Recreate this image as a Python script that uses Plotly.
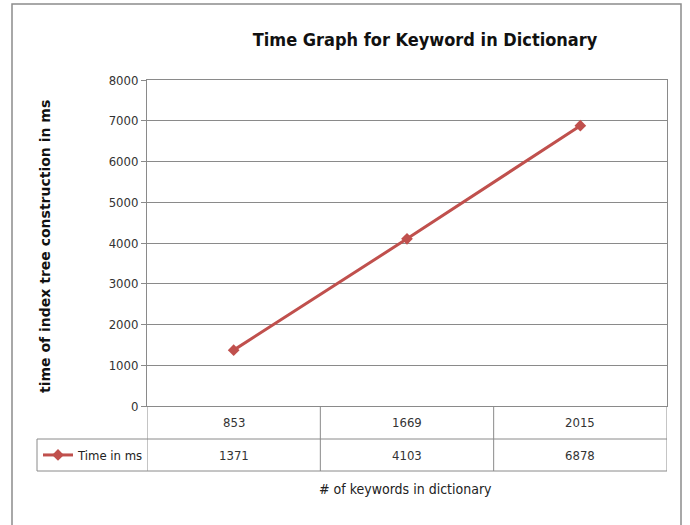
import plotly.graph_objects as go

categories = ["853", "1669", "2015"]
times_ms = [1371, 4103, 6878]
series_name = "Time in ms"
y_ticks = [0, 1000, 2000, 3000, 4000, 5000, 6000, 7000, 8000]

FONT = "Liberation Sans Narrow, DejaVu Sans Condensed, Arial Narrow, sans-serif"
RED = "#C0504D"
GRID = "#8a8a8a"

fig = go.Figure()
fig.add_trace(go.Scatter(
    x=list(range(len(categories))), y=times_ms, mode="lines+markers",
    name=series_name,
    line=dict(color=RED, width=3),
    marker=dict(symbol="diamond", size=9, color=RED),
))

# plot area geometry (pixels)
L, R, T, B = 147, 23, 80, 119
W, H = 690, 525
pw, ph = W - L - R, H - T - B


def px_x(x):
    return (x - L) / pw


def px_y(y):
    return (H - B - y) / ph


shapes = []
annotations = []
line_style = dict(color=GRID, width=1)
row1_bot = px_y(439)
row2_bot = px_y(471)
# table horizontal lines
shapes.append(dict(type="line", xref="paper", yref="paper", x0=0, x1=1, y0=row1_bot, y1=row1_bot, line=line_style))
shapes.append(dict(type="line", xref="paper", yref="paper", x0=px_x(37), x1=1, y0=row2_bot, y1=row2_bot, line=line_style))
shapes.append(dict(type="line", xref="paper", yref="paper", x0=px_x(37), x1=0, y0=row1_bot, y1=row1_bot, line=line_style))
shapes.append(dict(type="line", xref="paper", yref="paper", x0=px_x(37), x1=px_x(37), y0=row1_bot, y1=row2_bot, line=line_style))
# vertical column separators (category boundaries)
n = len(categories)
for i in range(n + 1):
    xb = i - 0.5
    shapes.append(dict(type="line", xref="x", yref="paper", x0=xb, x1=xb,
                       y0=0, y1=row2_bot, line=line_style))
# outer border
shapes.append(dict(type="rect", xref="paper", yref="paper", x0=px_x(12), x1=px_x(681),
                   y0=px_y(532), y1=px_y(4), line=dict(color="#8c8c8c", width=1.5)))

cell_font = dict(family=FONT, size=13, color="#333")
for i, (c, v) in enumerate(zip(categories, times_ms)):
    annotations.append(dict(x=i, y=(0 + row1_bot) / 2, xref="x", yref="paper", text=c,
                            xanchor="center", yanchor="middle", showarrow=False, font=cell_font))
    annotations.append(dict(x=i, y=(row1_bot + row2_bot) / 2, xref="x", yref="paper", text=str(v),
                            xanchor="center", yanchor="middle", showarrow=False, font=cell_font))

annotations.append(dict(x=px_x(405), y=px_y(489), xref="paper", yref="paper",
                        xanchor="center", yanchor="middle",
                        text="# of keywords in dictionary", showarrow=False,
                        font=dict(family=FONT, size=14, color="#222")))
annotations.append(dict(x=px_x(45), y=px_y(247), xref="paper", yref="paper", textangle=-90,
                        xanchor="center", yanchor="middle",
                        text="<b>time of index tree construction in ms</b>", showarrow=False,
                        font=dict(family="DejaVu Sans", size=14, color="#111")))

fig.update_layout(
    width=W, height=H,
    margin=dict(l=L, r=R, t=T, b=B),
    paper_bgcolor="white", plot_bgcolor="white",
    title=dict(text="<b>Time Graph for Keyword in Dictionary</b>", x=425 / W,
               xanchor="center", y=1 - 40 / H, yanchor="middle",
               font=dict(family=FONT, size=18, color="#111")),
    xaxis=dict(range=[-0.5, n - 0.5], showticklabels=False, showgrid=False, zeroline=False,
               showline=True, linecolor=GRID, mirror=True, ticks=""),
    yaxis=dict(range=[0, 8000], tickvals=y_ticks, showgrid=True, gridcolor=GRID, gridwidth=1,
               zeroline=False, showline=True, linecolor=GRID, mirror=True,
               ticks="outside", ticklen=5, tickcolor=GRID,
               tickfont=dict(family=FONT, size=13, color="#333")),
    showlegend=True,
    legend=dict(x=px_x(38), y=(row1_bot + row2_bot) / 2, xanchor="left", yanchor="middle",
                bgcolor="rgba(0,0,0,0)", font=dict(family=FONT, size=13, color="#222"),
                itemwidth=30, tracegroupgap=0),
    shapes=shapes, annotations=annotations,
)

fig.write_html("out.html")
